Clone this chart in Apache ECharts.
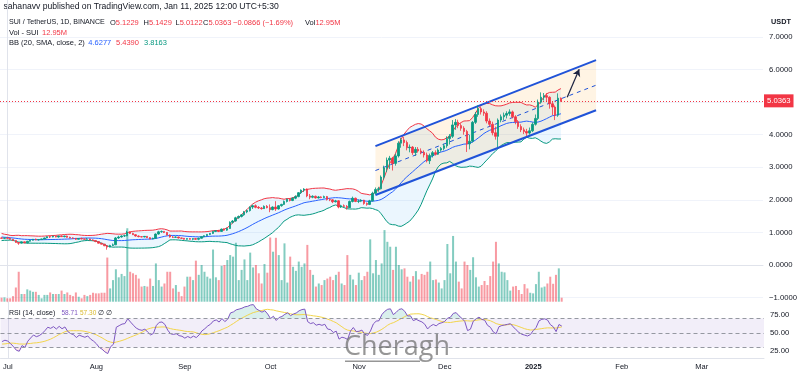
<!DOCTYPE html>
<html>
<head>
<meta charset="utf-8">
<title>SUI / TetherUS 1D</title>
<script src="https://cdn.jsdelivr.net/npm/echarts@6.0.0/dist/echarts.min.js"></script>
<style>
  html, body { margin: 0; padding: 0; background: #fff; }
  #chart { width: 800px; height: 378px; }
</style>
</head>
<body>
<div id="chart"></div>
<script>
// SUI / TetherUS, 1D, Binance. Day numbers count from 1 Jul 2024 (day 0);
// first candle is 29 Jun 2024 (day -2), last one 11 Jan 2025 (day 194)
const firstDay = -2;

const open = [
  0.83,0.82,0.83,0.82,0.79,0.75,0.69,0.67,0.71,0.68,
  0.73,0.76,0.79,0.77,0.78,0.80,0.83,0.87,0.86,0.88,
  0.86,0.89,0.87,0.89,0.85,0.83,0.82,0.79,0.81,0.80,
  0.79,0.80,0.77,0.75,0.72,0.67,0.64,0.59,0.55,0.60,
  0.62,0.83,0.86,0.89,0.90,1.01,0.97,0.93,0.89,0.87,
  0.86,0.88,0.84,0.80,0.82,0.95,1.02,1.03,1.00,0.92,
  0.86,0.85,0.86,0.83,0.82,0.79,0.81,0.79,0.81,0.79,
  0.82,0.87,0.90,0.94,0.97,1.03,1.05,1.03,1.10,1.07,
  1.12,1.31,1.35,1.45,1.49,1.54,1.63,1.67,1.78,1.82,
  1.77,1.75,1.73,1.80,1.76,1.70,1.78,1.72,1.82,1.86,
  1.95,2.02,1.98,2.05,2.10,2.22,2.30,2.33,2.12,2.08,
  2.11,2.06,2.09,2.07,2.10,2.01,2.00,1.94,1.97,1.78,
  1.82,1.80,1.76,1.95,2.05,1.95,1.96,1.99,1.89,1.86,
  1.97,2.20,2.32,2.34,2.70,2.98,3.22,3.28,3.12,3.35,
  3.74,3.84,3.76,3.60,3.62,3.45,3.55,3.50,3.46,3.38,
  3.20,3.36,3.45,3.40,3.53,3.58,3.66,3.88,3.95,4.30,
  4.38,4.28,4.20,4.10,3.72,3.80,4.38,4.62,4.80,4.70,
  4.66,4.42,4.32,4.06,3.95,4.45,4.55,4.60,4.65,4.70,
  4.55,4.40,4.25,4.15,4.10,4.05,4.12,4.32,4.50,5.00,
  5.15,5.20,5.15,4.95,4.85,4.60,5.1229
];
const high = [
  0.85,0.84,0.86,0.83,0.80,0.76,0.70,0.72,0.72,0.74,
  0.77,0.80,0.81,0.79,0.81,0.84,0.88,0.89,0.90,0.90,
  0.90,0.91,0.90,0.90,0.87,0.85,0.83,0.82,0.84,0.81,
  0.83,0.81,0.79,0.76,0.73,0.68,0.65,0.60,0.62,0.66,
  0.86,0.90,0.91,0.93,1.05,1.03,0.99,0.95,0.91,0.89,
  0.89,0.89,0.86,0.84,0.97,1.05,1.06,1.04,1.01,0.94,
  0.89,0.88,0.87,0.84,0.83,0.82,0.83,0.82,0.83,0.84,
  0.88,0.91,0.95,0.98,1.05,1.07,1.08,1.12,1.12,1.15,
  1.34,1.38,1.48,1.52,1.56,1.66,1.70,1.80,1.85,1.86,
  1.81,1.78,1.83,1.84,1.86,1.80,1.96,1.84,1.88,1.98,
  2.04,2.05,2.08,2.14,2.24,2.32,2.36,2.35,2.18,2.14,
  2.13,2.12,2.11,2.13,2.12,2.05,2.02,2.00,1.99,1.85,
  1.86,1.84,1.98,2.10,2.07,2.01,2.02,2.00,1.92,2.00,
  2.25,2.38,2.40,2.75,3.05,3.30,3.35,3.32,3.42,3.80,
  3.90,3.93,3.82,3.70,3.65,3.62,3.62,3.58,3.52,3.45,
  3.42,3.50,3.52,3.58,3.62,3.72,3.95,4.02,4.45,4.48,
  4.46,4.35,4.26,4.15,4.00,4.42,4.70,4.90,4.85,4.78,
  4.72,4.50,4.40,4.25,4.50,4.62,4.68,4.72,4.78,4.74,
  4.60,4.45,4.32,4.22,4.18,4.22,4.38,4.62,5.08,5.30,
  5.28,5.28,5.18,5.02,4.90,5.27,5.1429
];
const low = [
  0.81,0.80,0.81,0.78,0.74,0.68,0.62,0.66,0.67,0.66,
  0.72,0.75,0.76,0.75,0.77,0.79,0.82,0.83,0.85,0.85,
  0.84,0.86,0.85,0.84,0.82,0.81,0.77,0.78,0.79,0.78,
  0.78,0.76,0.74,0.70,0.66,0.63,0.58,0.47,0.54,0.58,
  0.61,0.80,0.84,0.86,0.88,0.95,0.92,0.87,0.85,0.85,
  0.85,0.83,0.79,0.79,0.81,0.93,0.99,0.98,0.91,0.84,
  0.83,0.83,0.81,0.80,0.78,0.78,0.78,0.76,0.77,0.76,
  0.81,0.85,0.88,0.92,0.95,1.01,1.01,1.02,1.05,1.05,
  1.11,1.27,1.33,1.42,1.46,1.51,1.59,1.64,1.72,1.74,
  1.72,1.70,1.72,1.74,1.62,1.68,1.66,1.70,1.79,1.84,
  1.92,1.95,1.96,2.02,2.08,2.18,2.24,2.08,2.02,2.05,
  2.04,2.04,2.05,2.05,1.98,1.96,1.90,1.92,1.74,1.75,
  1.78,1.70,1.75,1.92,1.93,1.90,1.93,1.85,1.82,1.84,
  1.95,2.17,2.25,2.32,2.62,2.85,2.95,2.90,3.05,3.30,
  3.60,3.65,3.52,3.46,3.38,3.35,3.45,3.40,3.30,3.15,
  3.10,3.30,3.36,3.38,3.48,3.52,3.60,3.70,3.90,4.15,
  4.20,4.12,4.00,3.47,3.55,3.76,4.33,4.55,4.62,4.58,
  4.35,4.25,3.98,3.85,3.62,4.38,4.45,4.50,4.58,4.50,
  4.32,4.18,4.08,4.02,3.96,4.00,4.08,4.28,4.45,4.95,
  5.05,5.02,4.80,4.60,4.45,4.55,5.0122
];
const close = [
  0.82,0.83,0.82,0.79,0.75,0.69,0.67,0.71,0.68,0.73,
  0.76,0.79,0.77,0.78,0.80,0.83,0.87,0.86,0.88,0.86,
  0.89,0.87,0.89,0.85,0.83,0.82,0.79,0.81,0.80,0.79,
  0.80,0.77,0.75,0.72,0.67,0.64,0.59,0.55,0.60,0.62,
  0.83,0.86,0.89,0.90,1.01,0.97,0.93,0.89,0.87,0.86,
  0.88,0.84,0.80,0.82,0.95,1.02,1.03,1.00,0.92,0.86,
  0.85,0.86,0.83,0.82,0.79,0.81,0.79,0.81,0.79,0.82,
  0.87,0.90,0.94,0.97,1.03,1.05,1.03,1.10,1.07,1.12,
  1.31,1.35,1.45,1.49,1.54,1.63,1.67,1.78,1.82,1.77,
  1.75,1.73,1.80,1.76,1.70,1.78,1.72,1.82,1.86,1.95,
  2.02,1.98,2.05,2.10,2.22,2.30,2.33,2.12,2.08,2.11,
  2.06,2.09,2.07,2.10,2.01,2.00,1.94,1.97,1.78,1.82,
  1.80,1.76,1.95,2.05,1.95,1.96,1.99,1.89,1.86,1.97,
  2.20,2.32,2.34,2.70,2.98,3.22,3.28,3.12,3.35,3.74,
  3.84,3.76,3.60,3.62,3.45,3.55,3.50,3.46,3.38,3.20,
  3.36,3.45,3.40,3.53,3.58,3.66,3.88,3.95,4.30,4.38,
  4.28,4.20,4.10,3.72,3.80,4.38,4.62,4.80,4.70,4.66,
  4.42,4.32,4.06,3.95,4.45,4.55,4.60,4.65,4.70,4.55,
  4.40,4.25,4.15,4.10,4.05,4.12,4.32,4.50,5.00,5.15,
  5.20,5.15,4.95,4.85,4.60,5.1229,5.0363
];
// volume in millions of SUI
const volume = [
  13,14,11,11,18,46,97,25,25,40,
  36,32,32,22,11,22,22,30,25,25,
  25,36,25,30,22,18,30,16,11,22,
  18,22,29,27,27,29,29,143,43,70,
  105,79,90,83,238,97,92,87,75,49,
  51,49,75,51,124,70,49,59,97,97,
  43,54,32,18,49,81,81,70,133,87,
  119,97,81,75,169,79,70,116,119,135,
  151,146,191,70,103,137,70,159,111,119,
  92,59,122,94,208,162,207,151,70,189,
  62,146,113,100,130,113,124,184,103,87,
  49,59,54,70,75,81,70,87,97,59,
  54,151,87,72,54,94,70,83,97,202,
  92,135,87,124,232,194,178,103,178,119,
  105,108,81,65,83,99,72,90,87,97,
  130,70,72,62,43,70,187,92,213,130,
  65,43,130,119,103,144,79,49,54,67,
  54,83,130,194,124,97,95,70,36,49,
  51,38,25,57,43,29,27,57,97,46,
  49,59,81,58,87,108,12.95
];
// closes of 1-28 Jun 2024, left of the visible range: only so BB and RSI exist from the left edge
const warmupClose = [
  1.03,1.02,1.06,1.08,1.10,1.08,0.99,1.00,1.02,0.99,
  0.93,0.96,0.91,0.89,0.90,0.91,0.84,0.80,0.83,0.82,
  0.83,0.82,0.80,0.79,0.84,0.83,0.85,0.83
];

const monthDays = [0, 31, 62, 92, 123, 153, 184, 215, 243];
const monthNames = ['Jul', 'Aug', 'Sep', 'Oct', 'Nov', 'Dec', '2025', 'Feb', 'Mar'];
const priceTicks = [-1, 0, 1, 2, 3, 4, 5, 6, 7];
const rsiTicks = [25, 50, 75];
const rsiBands = [30, 50, 70];

// the drawn parallel channel and the arrow, as (day, price) anchors
const channelDays = [129, 206.3];
const channelTop = [3.65, 6.29];
const channelBottom = [2.15, 4.75];
const arrowDays = [196.2, 200.4];
const arrowPrices = [5.15, 6.01];

const lastPrice = 5.0363;

const UP = '#089981', DOWN = '#F23645';
const TXT = '#131722';
const FONT = '"Liberation Sans", Arial, sans-serif';

// ---- indicators ----
const days = close.map((_, i) => firstDay + i);
const allClose = warmupClose.concat(close);
const w = warmupClose.length;

// Bollinger Bands (20, SMA, close, 2)
const bbUpper = [], bbBasis = [], bbLower = [];
for (let i = 0; i < close.length; i++) {
  const k = i + w;
  const win = allClose.slice(k - 19, k + 1);
  const m = win.reduce((a, b) => a + b, 0) / 20;
  const sd = Math.sqrt(win.reduce((a, b) => a + (b - m) * (b - m), 0) / 20);
  bbBasis.push([days[i], m]);
  bbUpper.push([days[i], m + 2 * sd]);
  bbLower.push([days[i], m - 2 * sd]);
}

// RSI 14 (Wilder) and its 14 SMA
const rsiAll = [null];
let ag = 0, al = 0;
for (let k = 1; k < allClose.length; k++) {
  const ch = allClose[k] - allClose[k - 1];
  const g = Math.max(ch, 0), l = Math.max(-ch, 0);
  if (k <= 14) { ag += g / 14; al += l / 14; }
  else { ag = (ag * 13 + g) / 14; al = (al * 13 + l) / 14; }
  rsiAll.push(k >= 14 ? (al === 0 ? 100 : 100 - 100 / (1 + ag / al)) : null);
}
const rsiData = [], rsiMaData = [];
for (let i = 0; i < close.length; i++) {
  const k = i + w;
  rsiData.push([days[i], rsiAll[k]]);
  let s = 0;
  for (let j = k - 13; j <= k; j++) s += rsiAll[j];
  rsiMaData.push([days[i], s / 14]);
}
// parts of the RSI above 70 / below 30, for the zone shading
const rsiHigh = rsiData.map(p => [p[0], Math.max(p[1], rsiBands[2])]);
const rsiLow = rsiData.map(p => [p[0], Math.min(p[1], rsiBands[0])]);

const candleData = close.map((c, i) => [days[i], open[i], c, low[i], high[i]]);
const volData = volume.map((v, i) => ({
  value: [days[i], v],
  itemStyle: { color: close[i] >= open[i] ? 'rgba(8,153,129,0.5)' : 'rgba(242,54,69,0.5)' }
}));
const chanMid = [0, 1].map(i => [channelDays[i], (channelTop[i] + channelBottom[i]) / 2]);

const xMin = -2.55, xMax = 264.8;
function xAxisFor(grid, extra) {
  return Object.assign({
    type: 'value', gridIndex: grid, min: xMin, max: xMax,
    axisLabel: { show: false }, axisTick: { show: false },
    splitLine: { show: false }, axisLine: { show: false }
  }, extra || {});
}

function txt(x, y, text, color, size, bold) {
  return {
    type: 'text', x: x, y: y, silent: true,
    style: {
      text: text, fill: color, fontSize: size, fontFamily: FONT,
      fontWeight: bold ? 'bold' : 'normal', verticalAlign: 'middle', align: 'left'
    }
  };
}
// "O5.1229"-style pair: dark letter, red value
function pair(x, y, label, value, size) {
  return {
    type: 'text', x: x, y: y, silent: true,
    style: {
      text: '{l|' + label + '}{v|' + value + '}', verticalAlign: 'middle', align: 'left',
      fontSize: size, fontFamily: FONT,
      rich: {
        l: { fill: TXT, fontSize: size, fontFamily: FONT },
        v: { fill: DOWN, fontSize: size, fontFamily: FONT }
      }
    }
  };
}

const chart = echarts.init(document.getElementById('chart'));

const H = 7.5; // header font size

const option = {
  animation: false,
  backgroundColor: '#ffffff',
  grid: [
    { left: 0, right: 36, top: 0, height: 302 },
    { left: 0, right: 36, top: 200, height: 101.7 },
    { left: 0, right: 36, top: 302, height: 56 }
  ],
  xAxis: [
    xAxisFor(0, { axisLine: { show: true, lineStyle: { color: '#e0e3eb' } } }),
    xAxisFor(1),
    xAxisFor(2, {
      axisLine: { show: true, lineStyle: { color: '#e0e3eb' } },
      axisLabel: {
        show: true, customValues: monthDays, margin: 5,
        color: TXT, fontSize: 7.5, fontFamily: FONT,
        formatter: v => {
          const i = monthDays.indexOf(v);
          return monthNames[i] === '2025' ? '{b|2025}' : monthNames[i];
        },
        rich: { b: { fontWeight: 'bold', fontSize: 7.5, fontFamily: FONT, color: TXT } }
      }
    })
  ],
  yAxis: [
    {
      type: 'value', gridIndex: 0, position: 'right', min: -1.136, max: 8.136,
      axisLine: { show: true, lineStyle: { color: '#e0e3eb' } },
      axisTick: { show: false, customValues: priceTicks },
      axisLabel: {
        customValues: priceTicks, margin: 6, color: TXT, fontSize: 7.7, fontFamily: FONT,
        formatter: v => (v < 0 ? '\u2212' : '') + Math.abs(v).toFixed(4)
      },
      splitLine: { show: true, lineStyle: { color: '#f0f3fa', width: 1 } }
    },
    { type: 'value', gridIndex: 1, min: 0, max: 329.5, show: false },
    {
      type: 'value', gridIndex: 2, position: 'right', min: 15.28, max: 93.06,
      axisLine: { show: true, lineStyle: { color: '#e0e3eb' } },
      axisTick: { show: false, customValues: rsiTicks },
      axisLabel: {
        customValues: rsiTicks, margin: 6, color: TXT, fontSize: 7.7, fontFamily: FONT,
        formatter: v => v.toFixed(2)
      },
      splitLine: { show: false }
    }
  ],
  series: [
    // BB background
    {
      type: 'custom', xAxisIndex: 0, yAxisIndex: 0, z: 1, silent: true, data: [[0, 0]],
      renderItem: (params, api) => ({
        type: 'polygon',
        shape: { points: bbUpper.map(p => api.coord(p)).concat(bbLower.slice().reverse().map(p => api.coord(p))) },
        style: { fill: 'rgba(33,150,243,0.09)' }
      })
    },
    // channel background
    {
      type: 'custom', xAxisIndex: 0, yAxisIndex: 0, z: 1, silent: true, data: [[0, 0]],
      renderItem: (params, api) => ({
        type: 'polygon',
        shape: {
          points: [
            api.coord([channelDays[0], channelTop[0]]), api.coord([channelDays[1], channelTop[1]]),
            api.coord([channelDays[1], channelBottom[1]]), api.coord([channelDays[0], channelBottom[0]])
          ]
        },
        style: { fill: 'rgba(255,178,64,0.14)' }
      })
    },
    // volume
    {
      type: 'bar', xAxisIndex: 1, yAxisIndex: 1, z: 2, barWidth: 2, silent: true,
      data: volData
    },
    // BB lines
    { type: 'line', xAxisIndex: 0, yAxisIndex: 0, z: 3, symbol: 'none', silent: true,
      data: bbUpper, lineStyle: { color: DOWN, width: 1 } },
    { type: 'line', xAxisIndex: 0, yAxisIndex: 0, z: 3, symbol: 'none', silent: true,
      data: bbBasis, lineStyle: { color: '#2962FF', width: 1 } },
    { type: 'line', xAxisIndex: 0, yAxisIndex: 0, z: 3, symbol: 'none', silent: true,
      data: bbLower, lineStyle: { color: UP, width: 1 } },
    // channel lines
    { type: 'line', xAxisIndex: 0, yAxisIndex: 0, z: 4, symbol: 'none', silent: true,
      data: [[channelDays[0], channelTop[0]], [channelDays[1], channelTop[1]]],
      lineStyle: { color: '#2053D8', width: 2 } },
    { type: 'line', xAxisIndex: 0, yAxisIndex: 0, z: 4, symbol: 'none', silent: true,
      data: [[channelDays[0], channelBottom[0]], [channelDays[1], channelBottom[1]]],
      lineStyle: { color: '#2053D8', width: 2 } },
    { type: 'line', xAxisIndex: 0, yAxisIndex: 0, z: 4, symbol: 'none', silent: true,
      data: chanMid, lineStyle: { color: '#2053D8', width: 1, type: [4, 4] },
      markLine: {
        silent: true, symbol: ['none', 'arrow'], symbolSize: [6, 7],
        label: { show: false },
        lineStyle: { color: '#1c2340', width: 1.2, type: 'solid' },
        data: [[{ coord: [arrowDays[0], arrowPrices[0]] }, { coord: [arrowDays[1], arrowPrices[1]] }]]
      } },
    // candles
    {
      type: 'candlestick', xAxisIndex: 0, yAxisIndex: 0, z: 5, silent: true,
      data: candleData, encode: { x: 0, y: [1, 2, 3, 4] }, barWidth: 2,
      itemStyle: { color: UP, color0: DOWN, borderColor: UP, borderColor0: DOWN, borderWidth: 0.8 },
      markLine: {
        silent: true, symbol: 'none',
        lineStyle: { color: DOWN, type: [1, 2], width: 1 },
        label: {
          show: true, position: 'end', distance: 1, formatter: lastPrice.toFixed(4),
          backgroundColor: DOWN, color: '#fff', fontSize: 7.7, fontFamily: FONT,
          padding: [3, 3, 2, 3]
        },
        data: [{ yAxis: lastPrice }]
      }
    },
    // RSI zone shading
    {
      type: 'line', xAxisIndex: 2, yAxisIndex: 2, z: 2, symbol: 'none', silent: true,
      data: rsiHigh, lineStyle: { width: 0 },
      areaStyle: { origin: rsiBands[2], color: 'rgba(8,153,129,0.22)' }
    },
    {
      type: 'line', xAxisIndex: 2, yAxisIndex: 2, z: 2, symbol: 'none', silent: true,
      data: rsiLow, lineStyle: { width: 0 },
      areaStyle: { origin: rsiBands[0], color: 'rgba(242,54,69,0.18)' }
    },
    // RSI
    {
      type: 'line', xAxisIndex: 2, yAxisIndex: 2, z: 4, symbol: 'none', silent: true,
      data: rsiData, lineStyle: { color: '#7E57C2', width: 1 },
      markArea: { silent: true, itemStyle: { color: 'rgba(126,87,194,0.1)' },
        data: [[{ yAxis: rsiBands[0] }, { yAxis: rsiBands[2] }]] },
      markLine: { silent: true, symbol: 'none', label: { show: false },
        lineStyle: { color: '#9598a1', type: [4, 3], width: 1 },
        data: rsiBands.map(v => ({ yAxis: v })) }
    },
    {
      type: 'line', xAxisIndex: 2, yAxisIndex: 2, z: 3, symbol: 'none', silent: true,
      data: rsiMaData, lineStyle: { color: '#F2D54B', width: 1 }
    }
  ],
  graphic: [
    txt(3.5, 6.3, 'sahanavv published on TradingView.com, Jan 11, 2025 12:00 UTC+5:30', TXT, 8.6),
    txt(9, 22.5, 'SUI / TetherUS, 1D, BINANCE', TXT, 7.1),
    pair(110, 22.5, 'O', '5.1229', H),
    pair(143.5, 22.5, 'H', '5.1429', H),
    pair(175.5, 22.5, 'L', '5.0122', H),
    pair(203, 22.5, 'C', '5.0363', H),
    txt(233, 22.5, '\u22120.0866 (\u22121.69%)', DOWN, H),
    pair(305, 22.5, 'Vol', '12.95M', H),
    txt(9, 32.5, 'Vol - SUI', TXT, H), txt(42, 32.5, '12.95M', DOWN, H),
    txt(9, 42.5, 'BB (20, SMA, close, 2)', TXT, H),
    txt(88.3, 42.5, '4.6277', '#2962FF', H),
    txt(116, 42.5, '5.4390', DOWN, H),
    txt(144, 42.5, '3.8163', UP, H),
    txt(771, 21.5, 'USDT', TXT, 7.3, true),
    txt(9, 313.3, 'RSI (14, close)', TXT, 7),
    txt(61.5, 313.3, '58.71', '#7E57C2', 6.5),
    txt(80, 313.3, '57.30', '#D9B92E', 6.5),
    txt(98, 313.3, '\u2205 \u2205', TXT, 6.5),
    // watermark
    {
      type: 'text', x: 344, y: 347, silent: true, z: 100,
      style: { text: 'Cheragh', fill: 'rgba(105,105,105,0.7)', fontSize: 27,
        fontFamily: '"Open Sans", sans-serif', verticalAlign: 'middle', align: 'left' }
    },
    {
      type: 'rect', silent: true, z: 100,
      shape: { x: 345, y: 360.5, width: 75, height: 1.5 },
      style: { fill: 'rgba(105,105,105,0.7)' }
    }
  ]
};

chart.setOption(option);
</script>
</body>
</html>
